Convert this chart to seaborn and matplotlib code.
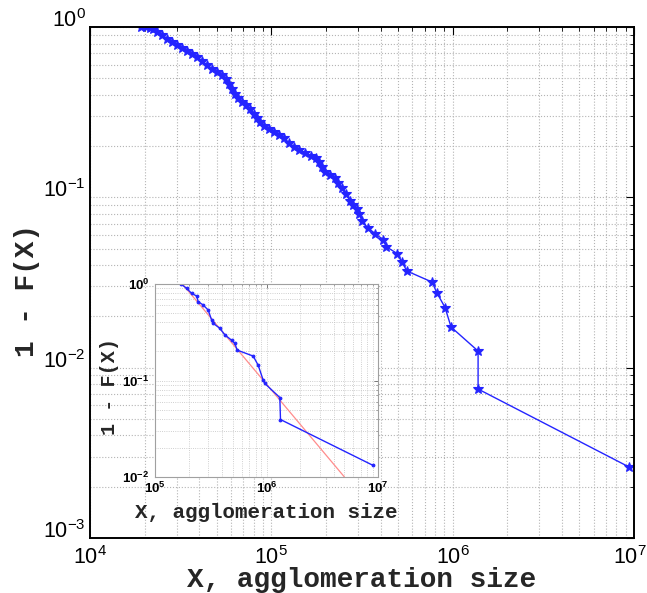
import matplotlib
matplotlib.use("Agg")
import matplotlib.pyplot as plt
import matplotlib.transforms as mtransforms
import numpy as np
import pandas as pd
import seaborn as sns
from matplotlib.ticker import LogLocator, NullFormatter

# ---- main chart data (complementary CDF) ----
main_x = [19100, 20370, 21430, 22260, 23420, 24960, 26600, 28340, 30200, 32180,
          34280, 36530, 38930, 41480, 44190, 47090, 50180, 53470, 56250, 58440,
          60710, 63070, 65520, 68930, 72520, 76290, 80270, 83390, 86640, 91150,
          97120, 103500, 110300, 117500, 125200, 133400, 142200, 153500, 165600, 176400,
          183300, 190400, 197800, 210800, 224600, 233300, 245500, 258200, 271700, 282200,
          296900, 304500, 316400, 341500, 373300, 413100, 429200, 493600, 522600, 560300,
          769800, 820100, 907900, 980000, 1381000, 1381000, 9397000]
main_y = [1.0, 1.0, 0.9932, 0.9668, 0.9347, 0.8975, 0.8560, 0.8166, 0.7843, 0.7527,
          0.7228, 0.6942, 0.6666, 0.6313, 0.5980, 0.5704, 0.5478, 0.5225, 0.4951, 0.4627,
          0.4324, 0.4043, 0.3829, 0.3652, 0.3483, 0.3300, 0.3084, 0.2922, 0.2768, 0.2622,
          0.2518, 0.2434, 0.2338, 0.2229, 0.2084, 0.1987, 0.1908, 0.1820, 0.1759, 0.1712,
          0.1612, 0.1506, 0.1417, 0.1361, 0.1298, 0.1213, 0.1134, 0.1045, 0.0951, 0.0901,
          0.0854, 0.0798, 0.0726, 0.0660, 0.0613, 0.0565, 0.0514, 0.0468, 0.0420, 0.0369,
          0.0318, 0.0274, 0.02254, 0.01731, 0.01252, 0.00749, 0.00261]

# ---- inset data (tail above x_min) ----
inset_x = [171000, 192000, 213000, 236000, 244000, 271000, 300000, 322000, 333000, 382000,
           424000, 486000, 520000, 546000, 760000, 842000, 934000, 966000, 1317000, 1335000,
           9020000]
inset_y = [1.0, 0.902, 0.800, 0.751, 0.656, 0.605, 0.537, 0.423, 0.391, 0.347,
           0.296, 0.262, 0.242, 0.2065, 0.179, 0.144, 0.1008, 0.0931, 0.0666, 0.0394,
           0.0132]
fit_x = [176000, 5000000]
fit_y = [1.0, 0.01]

x_label = "X, agglomeration size"
y_label = "1 - F(X)"

sns.set_theme(style="white")
plt.rcParams["font.family"] = ["Liberation Sans", "DejaVu Sans"]

main_df = pd.DataFrame({"x": main_x, "y": main_y})
inset_df = pd.DataFrame({"x": inset_x, "y": inset_y})
fit_df = pd.DataFrame({"x": fit_x, "y": fit_y})

W, H = 647, 593
fig = plt.figure(figsize=(W / 100, H / 100), dpi=100)
fig.patch.set_facecolor("white")

def frac(l, t, r, b):
    return [l / W, 1 - b / H, (r - l) / W, (b - t) / H]

label_font = dict(family="Liberation Mono", weight="bold")
blue = "#2424ff"

def log_axes(a):
    a.set_xscale("log")
    a.set_yscale("log")

def log_ticks(a):
    a.xaxis.set_major_locator(LogLocator(base=10, numticks=10))
    a.yaxis.set_major_locator(LogLocator(base=10, numticks=10))
    a.xaxis.set_minor_locator(LogLocator(base=10, subs=np.arange(2, 10), numticks=20))
    a.yaxis.set_minor_locator(LogLocator(base=10, subs=np.arange(2, 10), numticks=20))
    a.xaxis.set_minor_formatter(NullFormatter())
    a.yaxis.set_minor_formatter(NullFormatter())

# ---------------- main axes ----------------
ax = fig.add_axes(frac(90, 27, 634, 538))
ax.set_facecolor("white")
log_axes(ax)
sns.lineplot(data=main_df, x="x", y="y", ax=ax, sort=False, estimator=None,
             color=blue, linewidth=1.0, marker="*", markersize=7.5,
             markeredgecolor=blue, markerfacecolor=blue, markeredgewidth=0.8)
ax.set_xlim(1e4, 1e7)
ax.set_ylim(1e-3, 1)
log_ticks(ax)
ax.grid(True, which="both", linestyle=":", color="#b4b4b4", linewidth=0.8)
ax.tick_params(which="both", direction="in", top=True, right=True, colors="black")
ax.tick_params(which="major", length=6, width=0.8, labelsize=15.5)
ax.tick_params(axis="x", which="major", pad=6)
ax.tick_params(axis="y", which="major", pad=3)
ax.tick_params(which="minor", length=3, width=0.6)
for s in ax.spines.values():
    s.set_color("black")
    s.set_linewidth(1.4)
ax.set_xlabel(x_label, fontsize=20, **label_font)
ax.set_ylabel(y_label, fontsize=20, **label_font)
ax.xaxis.label.set_va("center")
ax.yaxis.label.set_va("center")
ax.xaxis.set_label_coords(0.5, -0.083)
ax.yaxis.set_label_coords(-0.116, 0.485)

# y tick labels sit with their baseline on the tick, as in the reference
for lab in ax.get_yticklabels():
    lab.set_verticalalignment("baseline")

# keep the last x tick label inside the canvas (as in the reference)
for tk in ax.xaxis.get_major_ticks():
    if abs(tk.get_loc() - 1e7) < 1:
        lab = tk.label1
        lab.set_transform(lab.get_transform() +
                          mtransforms.ScaledTranslation(-4 / 100, 0, fig.dpi_scale_trans))

# ---------------- inset axes ----------------
ins = fig.add_axes(frac(155, 284, 378, 477))
ins.set_facecolor("white")
log_axes(ins)
sns.lineplot(data=fit_df, x="x", y="y", ax=ins, sort=False, estimator=None,
             color="#ff8c8c", linewidth=0.9)
sns.lineplot(data=inset_df, x="x", y="y", ax=ins, sort=False, estimator=None,
             color=blue, linewidth=1.0, marker="o", markersize=2,
             markeredgecolor=blue, markerfacecolor=blue)
ins.set_xlim(1e5, 1e7)
ins.set_ylim(1e-2, 1)
log_ticks(ins)
ins.grid(True, which="both", linestyle=":", color="#c0c0c0", linewidth=0.6)
ins.tick_params(which="both", direction="in", top=True, right=True, colors="#666666",
                labelcolor="black")
ins.tick_params(which="major", length=3, width=0.6, labelsize=9.5)
ins.tick_params(axis="x", which="major", pad=3)
ins.tick_params(axis="y", which="major", pad=4)
ins.tick_params(which="minor", length=1.5, width=0.4)
for lab in ins.get_xticklabels() + ins.get_yticklabels():
    lab.set_fontweight("bold")
for s in ins.spines.values():
    s.set_color("#a0a0a0")
    s.set_linewidth(0.8)
ins.set_xlabel(x_label, fontsize=15, **label_font)
ins.set_ylabel(y_label, fontsize=14.5, **label_font)
ins.xaxis.label.set_va("center")
ins.yaxis.label.set_va("center")
ins.xaxis.set_label_coords(0.5, -0.185)
ins.yaxis.set_label_coords(-0.205, 0.47)

fig.savefig("out.png", dpi=100, facecolor="white")
